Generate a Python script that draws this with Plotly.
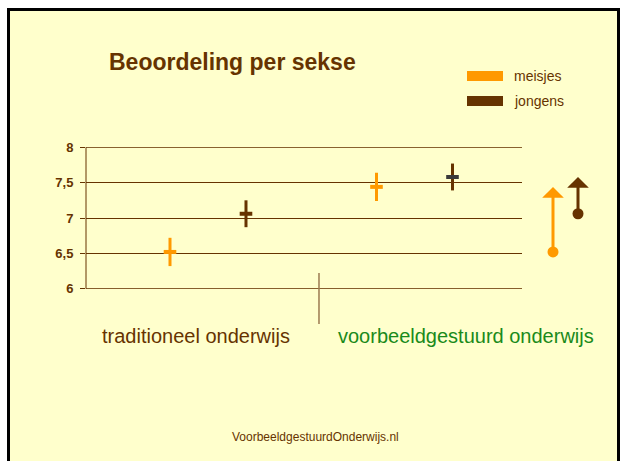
import plotly.graph_objects as go

# ---- data ----
categories = ["traditioneel onderwijs", "voorbeeldgestuurd onderwijs"]
series_names = ["meisjes", "jongens"]
meisjes = [6.52, 7.44]
meisjes_err = [0.20, 0.20]
jongens = [7.06, 7.58]
jongens_err = [0.19, 0.19]
ytick_vals = [6, 6.5, 7, 7.5, 8]
ytick_text = ["6", "6,5", "7", "7,5", "8"]

ORANGE = "#FF9900"
BROWN = "#663300"
DARKGRAY = "#3a3a3a"
GREEN = "#1a8a1a"
FONT = "Arial, Liberation Sans, sans-serif"

W, H = 621, 461
L, R, T, B = 86, 21, 147, 172
PW = W - L - R  # plot width (paper)
PH = H - T - B


def px(x):
    return (x - L) / PW


def py(y):
    return (H - B - y) / PH


group_pos = [1, 2]
off = 0.184

fig = go.Figure()

fig.add_trace(go.Scatter(
    x=[g - off for g in group_pos], y=meisjes, mode="markers",
    marker=dict(symbol="line-ew", size=9, line=dict(width=4, color=ORANGE)),
    error_y=dict(type="data", array=meisjes_err, visible=True, thickness=3, width=0, color=ORANGE),
    name=series_names[0], showlegend=False, cliponaxis=False,
))
fig.add_trace(go.Scatter(
    x=[g + off for g in group_pos], y=jongens, mode="markers",
    marker=dict(symbol="line-ew", size=9, line=dict(width=4, color=[BROWN, DARKGRAY])),
    error_y=dict(type="data", array=jongens_err, visible=True, thickness=3, width=0, color=BROWN),
    name=series_names[1], showlegend=False, cliponaxis=False,
))

# improvement arrows (second subplot on the right)
arrow_x = [1, 2]
arrow_start = [meisjes[0], jongens[0]]
arrow_end = [meisjes[1], jongens[1]]
arrow_cols = [ORANGE, BROWN]
fig.add_trace(go.Scatter(
    x=arrow_x, y=arrow_start, mode="markers", xaxis="x2", yaxis="y2",
    marker=dict(size=11, color=arrow_cols), showlegend=False, cliponaxis=False,
))
annotations = []
for xa, y0, y1, c in zip(arrow_x, arrow_start, arrow_end, arrow_cols):
    annotations.append(dict(
        x=xa, y=y1, ax=xa, ay=y0, xref="x2", yref="y2", axref="x2", ayref="y2",
        text="", showarrow=True, arrowhead=1, arrowsize=1.2, arrowwidth=3,
        arrowcolor=c, standoff=0, startstandoff=0,
    ))

YR = [5.996, 8.004]
main_dom = (522 - L) / PW
fig.update_layout(
    width=W, height=H,
    margin=dict(l=L, r=R, t=T, b=B, pad=0),
    paper_bgcolor="white", plot_bgcolor="rgba(0,0,0,0)",
    font=dict(family=FONT, color=BROWN),
    xaxis=dict(domain=[0, main_dom], range=[0.4092, 2.5206], showgrid=False,
               zeroline=False, showticklabels=False, ticks="", showline=False),
    yaxis=dict(range=YR, tickvals=ytick_vals, ticktext=ytick_text,
               showgrid=True, gridcolor=BROWN, gridwidth=1, zeroline=False,
               showline=False,
               ticks="outside", ticklen=5, tickcolor=BROWN,
               tickfont=dict(family=FONT, size=13, color=BROWN, weight="bold"),
               ticklabelstandoff=4),
    xaxis2=dict(domain=[px(530), 1], range=[0.08, 2.88], anchor="y2",
                visible=False),
    yaxis2=dict(range=YR, anchor="x2", matches="y", visible=False),
)

# background frame
shapes = [dict(type="rect", xref="paper", yref="paper", layer="below",
               x0=px(8.5), x1=px(618.5), y0=py(9.5), y1=py(480),
               fillcolor="#FFFFCC", line=dict(color="black", width=3))]
# y axis line (from first to last tick) and edge gridlines
shapes.append(dict(type="line", xref="paper", yref="y", x0=0, x1=0,
                   y0=ytick_vals[0], y1=ytick_vals[-1], line=dict(color=BROWN, width=1)))
for v in (ytick_vals[0], ytick_vals[-1]):
    shapes.append(dict(type="line", xref="x domain", yref="y", x0=0, x1=1, y0=v, y1=v,
                       line=dict(color=BROWN, width=1)))
# separator
shapes.append(dict(type="line", xref="x", yref="paper", x0=1.5375, x1=1.5375,
                   y0=py(273), y1=py(324), line=dict(color="#9c7a4f", width=1.5)))
# legend swatches
for name, c, yc in zip(series_names, [ORANGE, BROWN], [76, 101]):
    shapes.append(dict(type="rect", xref="paper", yref="paper",
                       x0=px(467), x1=px(503), y0=py(yc + 5), y1=py(yc - 5),
                       fillcolor=c, line=dict(width=0)))
    annotations.append(dict(x=px(512), y=py(yc), xref="paper", yref="paper",
                            text=name, showarrow=False, xanchor="left", yanchor="middle",
                            font=dict(family=FONT, size=14, color=BROWN)))

annotations.append(dict(x=px(232), y=py(62), xref="paper", yref="paper",
                        text="<b>Beoordeling per sekse</b>", showarrow=False,
                        xanchor="center", yanchor="middle",
                        font=dict(family=FONT, size=23, color=BROWN)))
annotations.append(dict(x=px(196), y=py(336), xref="paper", yref="paper",
                        text=categories[0], showarrow=False, xanchor="center", yanchor="middle",
                        font=dict(family=FONT, size=20, color=BROWN)))
annotations.append(dict(x=px(466), y=py(336), xref="paper", yref="paper",
                        text=categories[1], showarrow=False, xanchor="center", yanchor="middle",
                        font=dict(family=FONT, size=20, color=GREEN)))
annotations.append(dict(x=px(315), y=py(437), xref="paper", yref="paper",
                        text="VoorbeeldgestuurdOnderwijs.nl", showarrow=False,
                        xanchor="center", yanchor="middle",
                        font=dict(family=FONT, size=12, color=BROWN)))

fig.update_layout(shapes=shapes, annotations=annotations)
fig.write_html("out.html", config={"displayModeBar": False},
               post_script="document.body.style.margin='0';document.body.style.overflow='hidden';")
